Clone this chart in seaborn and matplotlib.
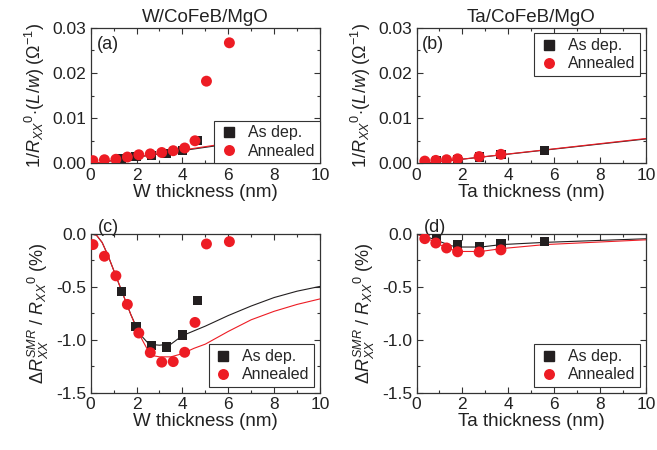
import matplotlib
matplotlib.use("Agg")
import matplotlib.pyplot as plt
import seaborn as sns
from matplotlib.ticker import MultipleLocator, FormatStrFormatter
from matplotlib.lines import Line2D

# ---- data ----
# W/CoFeB/MgO, conductance (a)
w_dep_t = [1.33, 1.98, 2.67, 3.32, 4.02, 4.66]
w_dep_g = [0.0010, 0.0015, 0.0018, 0.0021, 0.0029, 0.0050]
w_ann_t = [0.10, 0.60, 1.10, 1.60, 2.10, 2.60, 3.10, 3.60, 4.10, 4.55, 5.05, 6.05]
w_ann_g = [0.0006, 0.0008, 0.0009, 0.0014, 0.0019, 0.0021, 0.0024, 0.0028, 0.0034, 0.0050, 0.0182, 0.0267]
w_fit_g_t = [0, 10]
w_fit_g_dep = [-0.0001, 0.0072]
w_fit_g_ann = [-0.0001, 0.0075]

# W/CoFeB/MgO, SMR (c)
w_dep_smr = [-0.54, -0.87, -1.05, -1.067, -0.954, -0.63]
w_ann_smr = [-0.10, -0.21, -0.395, -0.665, -0.935, -1.12, -1.21, -1.205, -1.117, -0.835, -0.094, -0.072]
w_fit_t = [0, 0.25, 0.5, 0.75, 1.0, 1.25, 1.5, 1.75, 2.0, 2.25, 2.5, 2.75, 3.0, 3.5, 4.0, 4.5, 5.0, 6.0, 7.0, 8.0, 9.0, 10.0]
w_fit_dep = [0, -0.01, -0.08, -0.2, -0.34, -0.48, -0.62, -0.76, -0.88, -0.97, -1.03, -1.045, -1.05, -1.04, -0.96, -0.915, -0.87, -0.77, -0.68, -0.60, -0.54, -0.495]
w_fit_ann = [0, -0.01, -0.08, -0.2, -0.34, -0.48, -0.62, -0.76, -0.89, -1.0, -1.1, -1.15, -1.16, -1.16, -1.13, -1.08, -1.04, -0.92, -0.81, -0.73, -0.665, -0.613]

# Ta/CoFeB/MgO, conductance (b)
ta_dep_t = [0.87, 1.79, 2.73, 3.68, 5.57]
ta_dep_g = [0.0006, 0.0009, 0.0014, 0.0019, 0.0029]
ta_ann_t = [0.36, 0.84, 1.31, 1.79, 2.73, 3.68]
ta_ann_g = [0.0005, 0.00066, 0.0008, 0.0010, 0.0015, 0.0020]
ta_fit_g_t = [0, 10]
ta_fit_g_dep = [-0.0002, 0.0054]
ta_fit_g_ann = [-0.0002, 0.0055]

# Ta/CoFeB/MgO, SMR (d)
ta_dep_smr = [-0.035, -0.10, -0.115, -0.094, -0.072]
ta_ann_smr = [-0.044, -0.085, -0.132, -0.168, -0.17, -0.15]
ta_fit_t = [0, 0.5, 1.0, 1.5, 1.8, 2.8, 3.7, 5.6, 10.0]
ta_fit_dep = [0, -0.03, -0.07, -0.11, -0.123, -0.123, -0.10, -0.079, -0.045]
ta_fit_ann = [0, -0.045, -0.10, -0.145, -0.165, -0.165, -0.138, -0.10, -0.055]

BLACK = "#231f20"
RED = "#ed1c24"
TXT = "#222222"

sns.set_theme(style="ticks")
plt.rcParams["font.family"] = ["Liberation Sans", "DejaVu Sans"]
plt.rcParams["mathtext.fontset"] = "custom"
plt.rcParams["mathtext.rm"] = "Liberation Sans"
plt.rcParams["mathtext.it"] = "Liberation Sans:italic"
plt.rcParams["mathtext.bf"] = "Liberation Sans:bold"
plt.rcParams["axes.unicode_minus"] = False
plt.rcParams["axes.edgecolor"] = "#333333"
plt.rcParams["axes.linewidth"] = 0.9

fig = plt.figure(figsize=(6.57, 4.5), dpi=100)
ax_a = fig.add_axes([0.138, 0.637, 0.349, 0.301])
ax_b = fig.add_axes([0.634, 0.637, 0.349, 0.301])
ax_c = fig.add_axes([0.138, 0.127, 0.349, 0.353])
ax_d = fig.add_axes([0.634, 0.127, 0.349, 0.353])


def draw(ax, t_dep, y_dep, t_ann, y_ann, ft_dep, f_dep, ft_ann, f_ann):
    sns.lineplot(x=ft_dep, y=f_dep, ax=ax, color=BLACK, lw=0.8, sort=False, estimator=None, zorder=2)
    sns.lineplot(x=ft_ann, y=f_ann, ax=ax, color=RED, lw=0.8, sort=False, estimator=None, zorder=2)
    sns.scatterplot(x=t_dep, y=y_dep, ax=ax, marker="s", s=44, color=BLACK, edgecolor="none", zorder=3)
    sns.scatterplot(x=t_ann, y=y_ann, ax=ax, marker="o", s=62, color=RED, edgecolor="none", zorder=4)


def style(ax, ymin, ymax, ymaj, ymin_step, fmt, xlabel, ylabel):
    ax.set_xlim(0, 10)
    ax.set_ylim(ymin, ymax)
    ax.xaxis.set_major_locator(MultipleLocator(2))
    ax.xaxis.set_minor_locator(MultipleLocator(1))
    ax.yaxis.set_major_locator(MultipleLocator(ymaj))
    ax.yaxis.set_minor_locator(MultipleLocator(ymin_step))
    ax.yaxis.set_major_formatter(FormatStrFormatter(fmt))
    ax.tick_params(which="both", direction="in", top=True, right=True, labelsize=12.5,
                   colors="#333333", labelcolor=TXT)
    ax.tick_params(which="major", length=4, width=0.8, pad=3)
    ax.tick_params(which="minor", length=2.2, width=0.8)
    ax.set_xlabel(xlabel, fontsize=13.5, labelpad=1, color=TXT)
    ax.set_ylabel(ylabel, fontsize=13, labelpad=4, color=TXT)


handles = [
    Line2D([], [], ls="none", marker="s", ms=6.6, color=BLACK, label="As dep."),
    Line2D([], [], ls="none", marker="o", ms=7.9, color=RED, mec="none", label="Annealed"),
]


def legend(ax, loc, pad):
    leg = ax.legend(handles=handles, loc=loc, fontsize=11.5, frameon=True, fancybox=False,
                    borderaxespad=pad, handletextpad=0.6, handlelength=1.2, borderpad=0.3,
                    labelspacing=0.2)
    leg.get_frame().set_edgecolor("#333333")
    leg.get_frame().set_linewidth(0.8)
    leg.get_frame().set_alpha(1)


g_label = r"$1/R_{XX}{}^{0}\!\cdot\!(L/w)$ ($\Omega^{-1}$)"
s_label = r"$\Delta R_{XX}^{SMR}$ / $R_{XX}{}^{0}$ (%)"

# (a)
draw(ax_a, w_dep_t, w_dep_g, w_ann_t, w_ann_g, w_fit_g_t, w_fit_g_dep, w_fit_g_t, w_fit_g_ann)
style(ax_a, 0, 0.03, 0.01, 0.005, "%.2f", "W thickness (nm)", g_label)
legend(ax_a, "lower right", 0.0)
ax_a.set_title("W/CoFeB/MgO", fontsize=13.5, pad=4, color=TXT)
ax_a.text(0.025, 0.94, "(a)", transform=ax_a.transAxes, fontsize=13, va="top", color=TXT)

# (b)
draw(ax_b, ta_dep_t, ta_dep_g, ta_ann_t, ta_ann_g, ta_fit_g_t, ta_fit_g_dep, ta_fit_g_t, ta_fit_g_ann)
style(ax_b, 0, 0.03, 0.01, 0.005, "%.2f", "Ta thickness (nm)", g_label)
legend(ax_b, "upper right", 0.35)
ax_b.set_title("Ta/CoFeB/MgO", fontsize=13.5, pad=4, color=TXT)
ax_b.text(0.025, 0.94, "(b)", transform=ax_b.transAxes, fontsize=13, va="top", color=TXT)

# (c)
draw(ax_c, w_dep_t, w_dep_smr, w_ann_t, w_ann_smr, w_fit_t, w_fit_dep, w_fit_t, w_fit_ann)
style(ax_c, -1.5, 0, 0.5, 0.25, "%.1f", "W thickness (nm)", s_label)
legend(ax_c, "lower right", 0.35)
ax_c.text(0.03, 0.99, "(c)", transform=ax_c.transAxes, fontsize=13, va="bottom", color=TXT)

# (d)
draw(ax_d, ta_dep_t, ta_dep_smr, ta_ann_t, ta_ann_smr, ta_fit_t, ta_fit_dep, ta_fit_t, ta_fit_ann)
style(ax_d, -1.5, 0, 0.5, 0.25, "%.1f", "Ta thickness (nm)", s_label)
legend(ax_d, "lower right", 0.35)
ax_d.text(0.03, 0.99, "(d)", transform=ax_d.transAxes, fontsize=13, va="bottom", color=TXT)

fig.savefig("out.png", dpi=100)
